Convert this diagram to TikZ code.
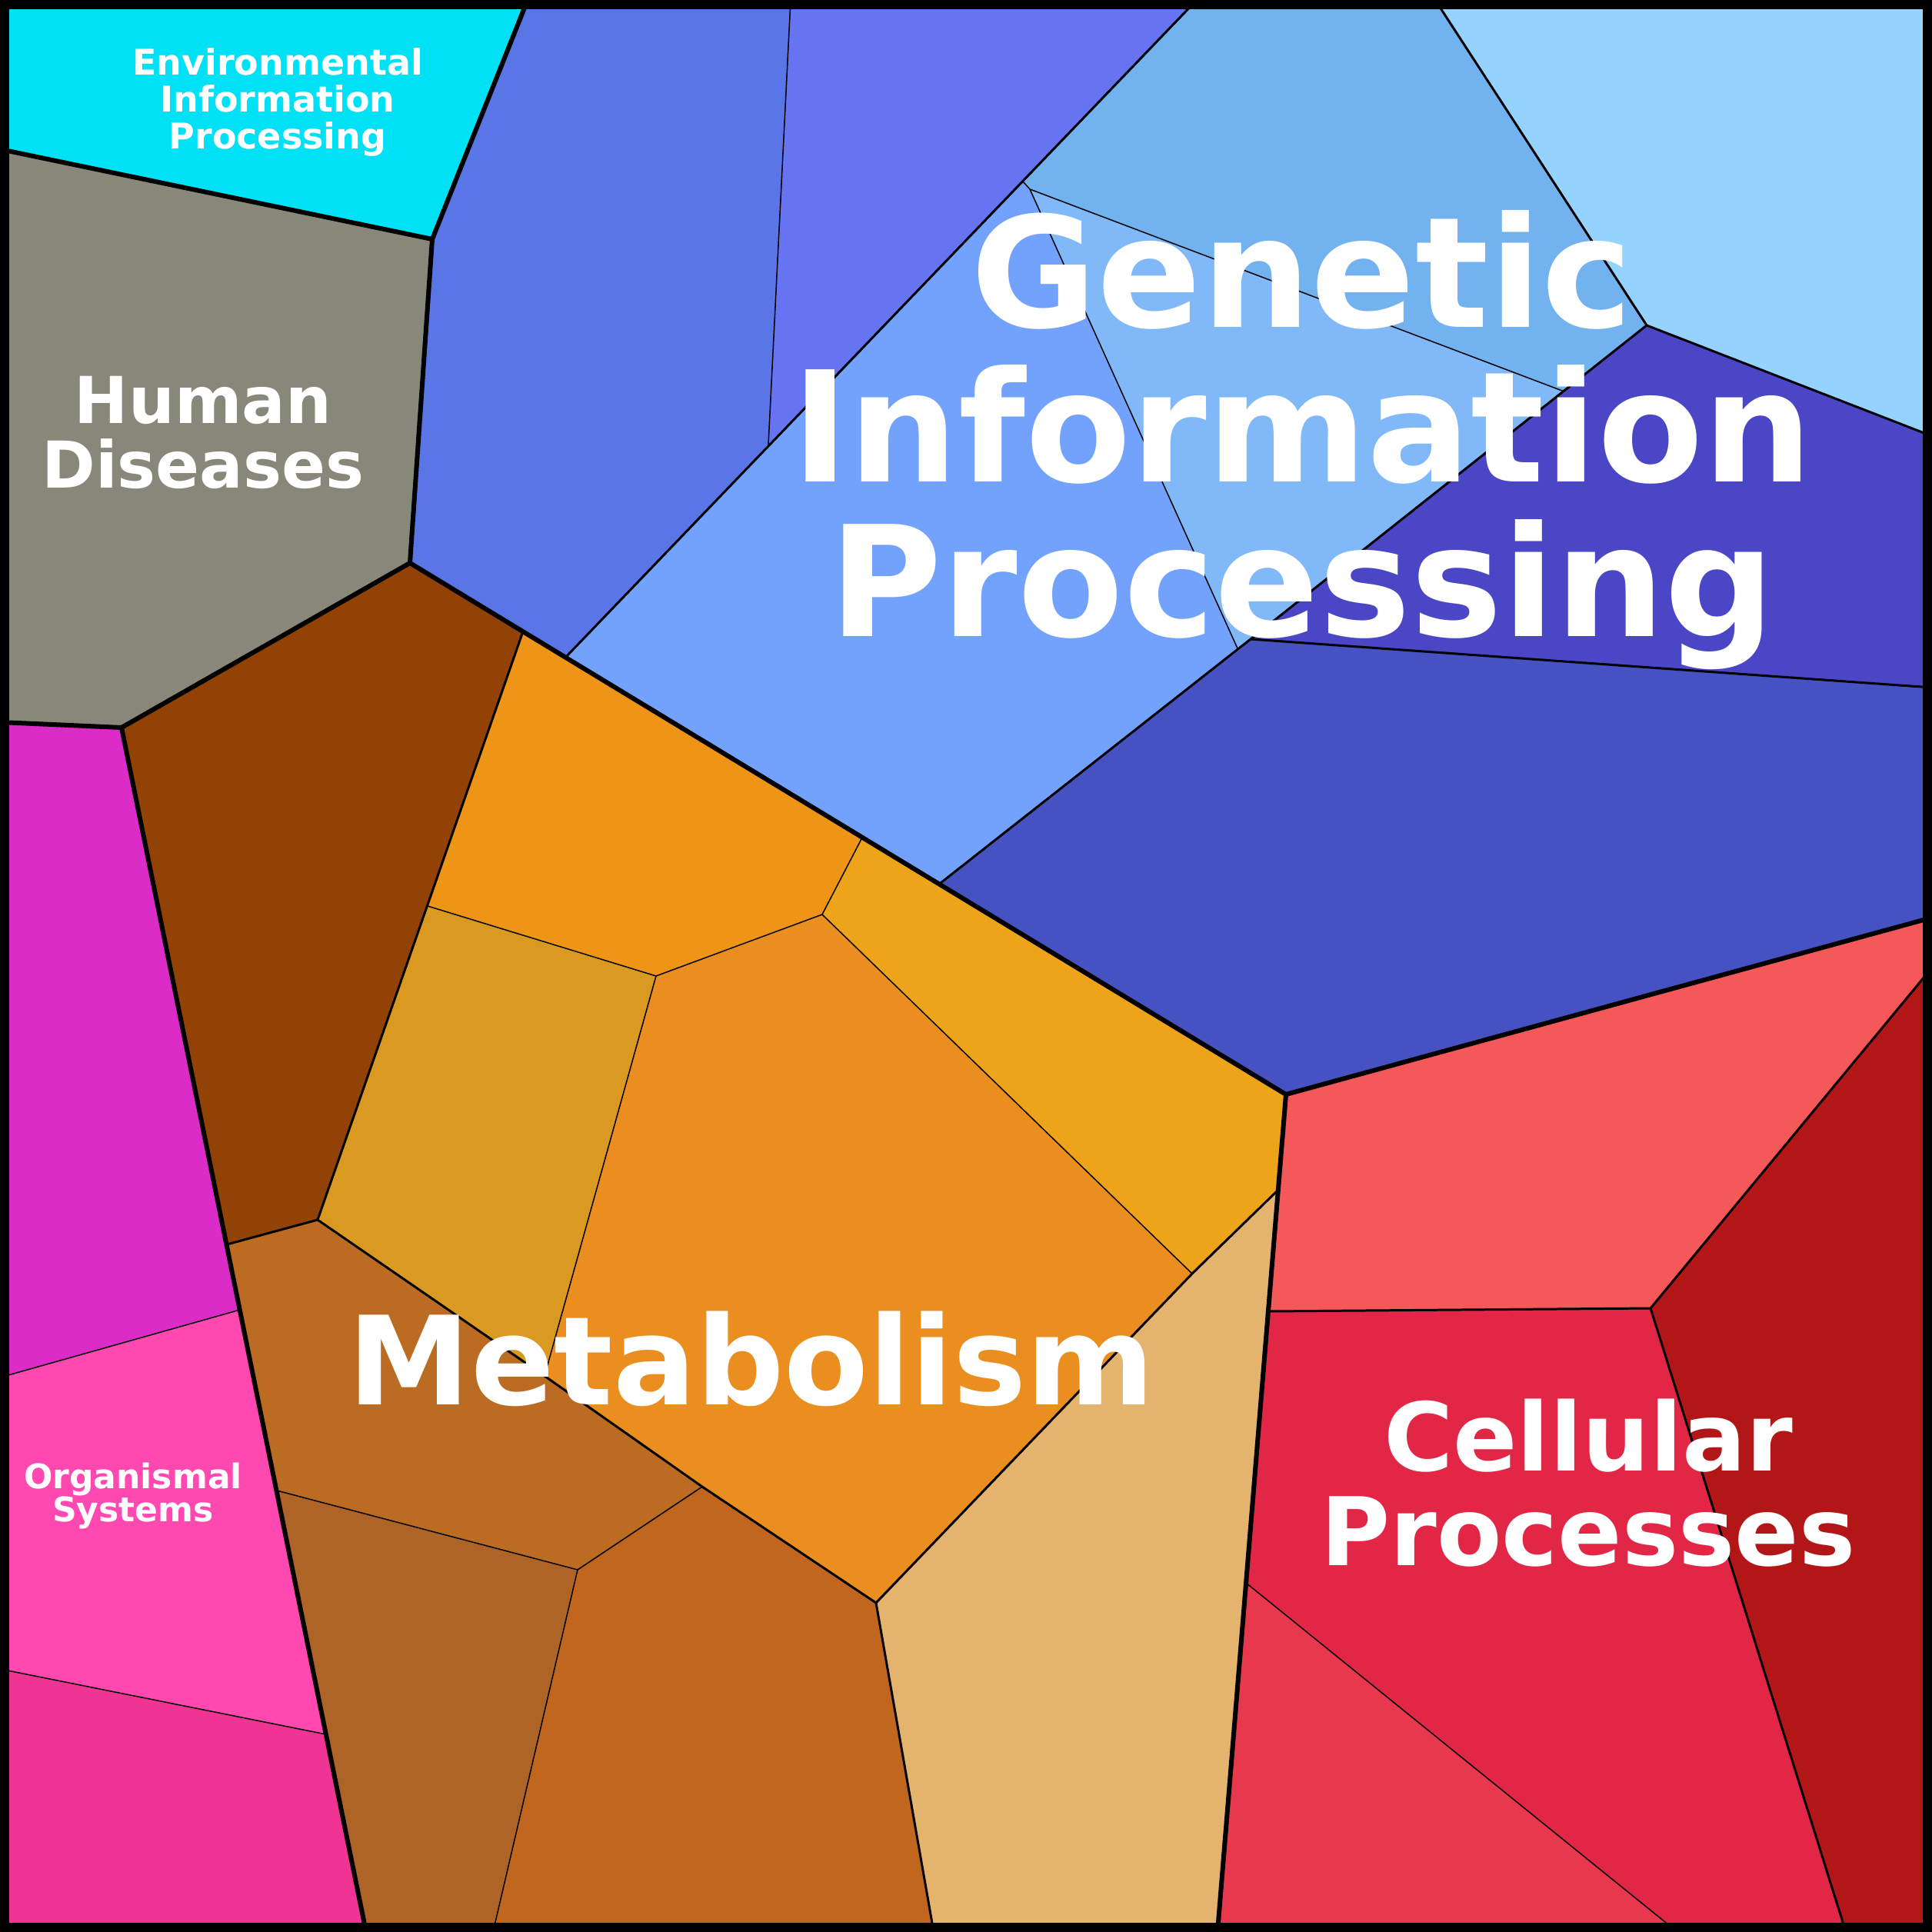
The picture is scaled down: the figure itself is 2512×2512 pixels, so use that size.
\documentclass[tikz,border=0pt]{standalone}
\usepackage{fontspec}
\newfontfamily\dvs{DejaVu Sans}
\usetikzlibrary{calc}
\definecolor{cEnv}{RGB}{0,225,245}
\definecolor{cHum}{RGB}{135,135,122}
\definecolor{cBa}{RGB}{90,117,230}
\definecolor{cBb}{RGB}{102,116,242}
\definecolor{cLB}{RGB}{114,162,252}
\definecolor{cTL}{RGB}{114,178,238}
\definecolor{cML}{RGB}{128,184,248}
\definecolor{cLL}{RGB}{150,210,254}
\definecolor{cInd}{RGB}{74,70,198}
\definecolor{cDB}{RGB}{70,82,194}
\definecolor{cBr}{RGB}{146,66,4}
\definecolor{cOr}{RGB}{238,148,22}
\definecolor{cOY}{RGB}{238,164,26}
\definecolor{cGo}{RGB}{218,154,34}
\definecolor{cCO}{RGB}{234,142,32}
\definecolor{cMf}{RGB}{188,108,34}
\definecolor{cMg}{RGB}{174,100,38}
\definecolor{cMh}{RGB}{192,102,30}
\definecolor{cMi}{RGB}{228,180,110}
\definecolor{cSal}{RGB}{244,88,88}
\definecolor{cDR}{RGB}{178,22,22}
\definecolor{cCr}{RGB}{226,38,70}
\definecolor{cRo}{RGB}{232,56,78}
\definecolor{cMag}{RGB}{220,44,200}
\definecolor{cPk}{RGB}{255,72,176}
\definecolor{cDP}{RGB}{240,52,148}
\begin{document}
\begin{tikzpicture}[x=0.01cm,y=-0.01cm,
  thickln/.style={line width=1.71pt, line join=round, line cap=round},
  medln/.style={line width=0.85pt, line join=round},
  thinln/.style={line width=0.43pt, line join=round},
  lbl/.style={text=white, inner sep=0pt, align=center}]
\useasboundingbox (0,0) rectangle (2512,2512);
% frame corners
\coordinate (C00) at (0,0);
\coordinate (C10) at (2512,0);
\coordinate (C11) at (2512,2512);
\coordinate (C01) at (0,2512);
% environmental / human
\coordinate (E1) at (686,0);
\coordinate (E2) at (562,311);
\coordinate (E3) at (0,194);
\coordinate (H1) at (533,732);
\coordinate (H2) at (158,946);
\coordinate (H3) at (0,939);
% genetic
\coordinate (B1) at (1028,0);
\coordinate (B2) at (999,578);
\coordinate (D0) at (1556,0);
\coordinate (G1) at (1330,236);
\coordinate (G2) at (1339,246);
\coordinate (G3) at (1609,843);
\coordinate (G4) at (1626,831);
\coordinate (G5) at (2141,423);
\coordinate (G6) at ($(G5)!0.21!(G4)$);
\coordinate (G7) at (1866,0);
\coordinate (G8) at (2512,567);
\coordinate (G9) at (2512,894);
\coordinate (G10) at (2512,1193);
\coordinate (G11) at (1223,1148);
\coordinate (G12) at (736,854);
% metabolism
\coordinate (M1) at (680,821);
\coordinate (M2) at (1121,1089);
\coordinate (M3) at (1069,1189);
\coordinate (M4) at (853,1269);
\coordinate (M5) at (556,1178);
\coordinate (M6) at (413,1586);
\coordinate (M7) at (295,1618);
\coordinate (M8) at (708,1789);
\coordinate (M9) at (913,1933);
\coordinate (M10) at (1139,2084);
\coordinate (M11) at (1550,1656);
\coordinate (M12) at (1662,1547);
\coordinate (M13) at (1672,1423);
\coordinate (M14) at (360,1938);
\coordinate (M15) at (751,2041);
\coordinate (M16) at (476,2512);
\coordinate (M17) at (641,2512);
\coordinate (M18) at (1214,2512);
\coordinate (M19) at (1583,2512);
% cellular
\coordinate (P1) at (2146,1701);
\coordinate (P2) at (1649,1705);
\coordinate (P3) at (2512,1258);
\coordinate (P4) at (2400,2512);
\coordinate (P5) at (1620,2058);
\coordinate (P6) at (2181,2512);
% organismal
\coordinate (O1) at (312,1703);
\coordinate (O2) at (0,1791);
\coordinate (O3) at (424,2255);
\coordinate (O4) at (0,2170);

% ---- fills ----
\fill[cEnv] (C00) -- (E1) -- (E2) -- (E3) -- cycle;
\fill[cHum] (E3) -- (E2) -- (H1) -- (H2) -- (H3) -- cycle;
\fill[cBa] (E1) -- (B1) -- (B2) -- (G12) -- (H1) -- (E2) -- cycle;
\fill[cBb] (B1) -- (D0) -- (G1) -- (B2) -- cycle;
\fill[cLB] (B2) -- (G1) -- (G2) -- (G3) -- (G11) -- (G12) -- cycle;
\fill[cTL] (D0) -- (G7) -- (G5) -- (G6) -- (G2) -- (G1) -- cycle;
\fill[cML] (G2) -- (G6) -- (G4) -- (G3) -- cycle;
\fill[cLL] (G7) -- (C10) -- (G8) -- (G5) -- cycle;
\fill[cInd] (G5) -- (G8) -- (G9) -- (G4) -- (G6) -- cycle;
\fill[cDB] (G11) -- (G3) -- (G4) -- (G9) -- (G10) -- (M13) -- cycle;
\fill[cBr] (H2) -- (H1) -- (M1) -- (M5) -- (M6) -- (M7) -- cycle;
\fill[cOr] (M1) -- (M2) -- (M3) -- (M4) -- (M5) -- cycle;
\fill[cOY] (M2) -- (M13) -- (M12) -- (M11) -- (M3) -- cycle;
\fill[cGo] (M5) -- (M4) -- (M8) -- (M6) -- cycle;
\fill[cCO] (M4) -- (M3) -- (M11) -- (M10) -- (M9) -- (M8) -- cycle;
\fill[cMf] (M7) -- (M6) -- (M8) -- (M9) -- (M15) -- (M14) -- cycle;
\fill[cMg] (M14) -- (M15) -- (M17) -- (M16) -- cycle;
\fill[cMh] (M15) -- (M9) -- (M10) -- (M18) -- (M17) -- cycle;
\fill[cMi] (M10) -- (M11) -- (M12) -- (M19) -- (M18) -- cycle;
\fill[cSal] (M13) -- (G10) -- (P3) -- (P1) -- (P2) -- cycle;
\fill[cDR] (P3) -- (C11) -- (P4) -- (P1) -- cycle;
\fill[cCr] (P2) -- (P1) -- (P4) -- (P6) -- (P5) -- cycle;
\fill[cRo] (P5) -- (P6) -- (M19) -- cycle;
\fill[cMag] (H3) -- (H2) -- (O1) -- (O2) -- cycle;
\fill[cPk] (O2) -- (O1) -- (O3) -- (O4) -- cycle;
\fill[cDP] (O4) -- (O3) -- (M16) -- (C01) -- cycle;

% ---- thin lines ----
\draw[thinln] (B1) -- (B2);
\draw[thinln] (G1) -- (G2) -- (G3);
\draw[thinln] (G2) -- (G6);
\draw[thinln] (M5) -- (M4) -- (M3) -- (M2);
\draw[thinln] (M4) -- (M8);
\draw[thinln] (M3) -- (M11);
\draw[thinln] (M14) -- (M15) -- (M9);
\draw[thinln] (M15) -- (M17);
\draw[thinln] (P5) -- (P6);
\draw[thinln] (O2) -- (O1);
\draw[thinln] (O4) -- (O3);

% ---- medium lines ----
\draw[medln] (D0) -- (G12);
\draw[medln] (G7) -- (G5) -- (G8);
\draw[medln] (G5) -- (G4) -- (G9);
\draw[medln] (G11) -- (G4);
\draw[medln] (M1) -- (M6) -- (M7);
\draw[medln] (M6) -- (M8) -- (M9) -- (M10) -- (M18);
\draw[medln] (M10) -- (M11) -- (M12);
\draw[medln] (P2) -- (P1) -- (P3);
\draw[medln] (P1) -- (P4);

% ---- thick lines ----
\draw[thickln] (E3) -- (E2) -- (E1);
\draw[thickln] (E2) -- (H1) -- (H2) -- (H3);
\draw[thickln] (H2) -- (M16);
\draw[thickln] (H1) -- (M13) -- (G10);
\draw[thickln] (M13) -- (M19);

% ---- frame ----
\draw[line width=3.41pt] (6,6) rectangle (2506,2506);

% ---- labels ----
\node[lbl, font={\dvs\bfseries\fontsize{13.09pt}{13.66pt}\selectfont\lineskiplimit=-100pt}] (env) at (361,133) {Environmental\\Information\\Processing};
\node[lbl, font={\dvs\bfseries\fontsize{23.9pt}{23.9pt}\selectfont\lineskiplimit=-100pt}] (hum) at (264,562) {Human\\Diseases};
\node[lbl, font={\dvs\bfseries\fontsize{56.9pt}{57.2pt}\selectfont\lineskiplimit=-100pt}] (gen) at (1693,572) {Genetic\\Information\\Processing};
\node[lbl, anchor=base, font={\dvs\bfseries\fontsize{45.5pt}{45.5pt}\selectfont}] (met) at (977,1826) {Metabolism};
\node[lbl, font={\dvs\bfseries\fontsize{35pt}{35pt}\selectfont\lineskiplimit=-100pt}] (cel) at (2065,1928) {Cellular\\Processes};
\node[lbl, font={\dvs\bfseries\fontsize{12.52pt}{11.95pt}\selectfont\lineskiplimit=-100pt}] (org) at (173,1945) {Organismal\\Systems};
\end{tikzpicture}
\end{document}
